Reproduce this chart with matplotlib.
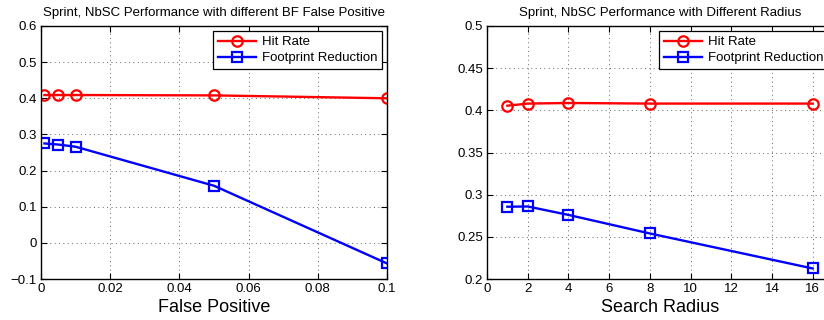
import matplotlib
matplotlib.use('Agg')
import matplotlib.pyplot as plt
from matplotlib.ticker import FuncFormatter

plt.rcParams['font.family'] = ['Liberation Sans', 'DejaVu Sans']

# left panel: BF false positive
fp = [0.001, 0.005, 0.01, 0.05, 0.1]
fp_hit = [0.409, 0.409, 0.409, 0.408, 0.400]
fp_foot = [0.275, 0.272, 0.266, 0.158, -0.057]

# right panel: search radius
radius = [1, 2, 4, 8, 16]
r_hit = [0.4055, 0.408, 0.4087, 0.408, 0.408]
r_foot = [0.2857, 0.286, 0.276, 0.254, 0.2125]


def g_fmt(v, pos):
    s = '%g' % round(v, 6)
    return s.replace('-', '\u2212')


def style(ax, title, xlabel):
    ax.set_title(title, fontsize=9.5, pad=7)
    ax.set_xlabel(xlabel, fontsize=13, labelpad=3)
    ax.tick_params(direction='in', top=True, right=True, labelsize=9.5,
                   length=4, width=0.8, pad=3)
    ax.grid(True, linestyle=(0, (1, 3.5)), color='#666666', linewidth=0.7)
    ax.xaxis.set_major_formatter(FuncFormatter(g_fmt))
    ax.yaxis.set_major_formatter(FuncFormatter(g_fmt))
    for sp in ax.spines.values():
        sp.set_linewidth(1.0)
    ax.legend(loc='upper right', fontsize=9.5, fancybox=False, framealpha=1,
              edgecolor='black', borderaxespad=0.4, handlelength=2.9,
              borderpad=0.35, labelspacing=0.3, handletextpad=0.4)
    ax.get_legend().get_frame().set_linewidth(0.9)


fig = plt.figure(figsize=(8.24, 3.2), dpi=100)
W, H = 824, 320

ax1 = fig.add_axes([41 / W, 41 / H, 346 / W, 253 / H])
ax1.plot(fp, fp_hit, '-o', color='red', lw=1.7, ms=7.5, mfc='none', mew=1.6,
         label='Hit Rate')
ax1.plot(fp, fp_foot, '-s', color='blue', lw=1.7, ms=6.5, mfc='none', mew=1.6,
         label='Footprint Reduction')
ax1.set_xlim(0, 0.1)
ax1.set_ylim(-0.1, 0.6)
ax1.set_xticks([0, 0.02, 0.04, 0.06, 0.08, 0.1])
ax1.set_yticks([-0.1, 0, 0.1, 0.2, 0.3, 0.4, 0.5, 0.6])
style(ax1, 'Sprint, NbSC Performance with different BF False Positive',
      'False Positive')

ax2 = fig.add_axes([487 / W, 41 / H, 346 / W, 253 / H])
ax2.plot(radius, r_hit, '-o', color='red', lw=1.7, ms=7.5, mfc='none', mew=1.6,
         label='Hit Rate')
ax2.plot(radius, r_foot, '-s', color='blue', lw=1.7, ms=6.5, mfc='none', mew=1.6,
         label='Footprint Reduction')
ax2.set_xlim(0, 17)
ax2.set_ylim(0.2, 0.5)
ax2.set_xticks([0, 2, 4, 6, 8, 10, 12, 14, 16])
ax2.set_yticks([0.2, 0.25, 0.3, 0.35, 0.4, 0.45, 0.5])
style(ax2, 'Sprint, NbSC Performance with Different Radius', 'Search Radius')

fig.savefig('out.png', dpi=100)
